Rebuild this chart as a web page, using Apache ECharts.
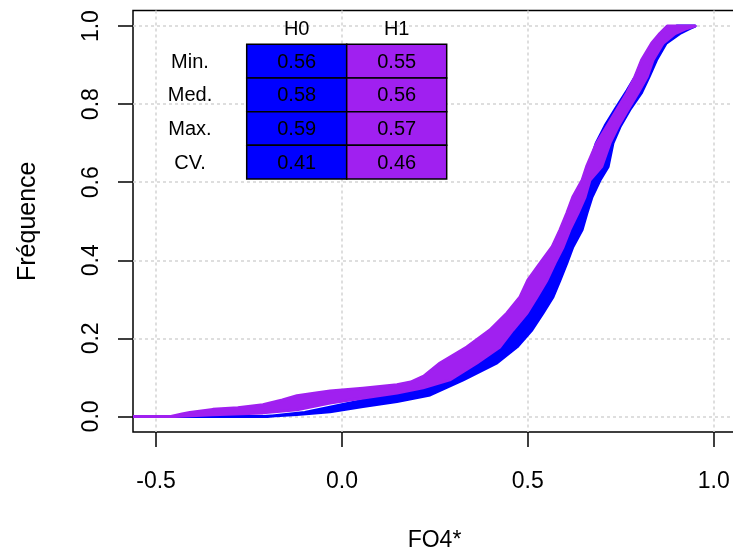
<!DOCTYPE html>
<html>
<head>
<meta charset="utf-8">
<script src="https://cdn.jsdelivr.net/npm/echarts@6/dist/echarts.min.js"></script>
<style>html,body{margin:0;padding:0;background:#fff;}#c{width:733px;height:554px;}</style>
</head>
<body>
<div id="c"></div>
<script>
// ---- data ----
const xTicks = [-0.5, 0.0, 0.5, 1.0];
const yTicks = [0.0, 0.2, 0.4, 0.6, 0.8, 1.0];
const xTitle = 'FO4*';
const yTitle = 'Fréquence';

// H1 (purple) envelope of ECDF curves: left edge (bottom->top), right edge (top->bottom)
const h1LeftX = [-0.562,-0.46,-0.43,-0.409,-0.347,-0.28,-0.2125,-0.16,-0.121,-0.07,-0.032,0.0565,0.148,0.185,0.22,0.264,0.336,0.398,0.444,0.479,0.500,0.533,0.565,0.5865,0.605,0.621,0.646,0.658,0.685,0.712,0.739,0.766,0.788,0.806,0.833,0.855,0.875];
const h1LeftF = [0,0,0.006,0.010,0.018,0.022,0.030,0.042,0.053,0.060,0.065,0.072,0.081,0.088,0.103,0.137,0.178,0.2215,0.265,0.306,0.349,0.393,0.434,0.478,0.521,0.562,0.605,0.640,0.700,0.742,0.785,0.828,0.870,0.913,0.956,0.981,1.0];
const h1RightX = [0.950,0.928,0.896,0.864,0.837,0.821,0.796,0.769,0.7425,0.721,0.699,0.667,0.654,0.635,0.613,0.595,0.573,0.5515,0.5246,0.498,0.460,0.425,0.363,0.29,0.218,0.148,0.0565,-0.032,-0.121,-0.2125,-0.347,-0.45,-0.562];
const h1RightF = [1.0,0.994,0.981,0.956,0.913,0.870,0.828,0.785,0.742,0.700,0.640,0.605,0.562,0.521,0.478,0.434,0.393,0.349,0.306,0.265,0.2215,0.178,0.137,0.0935,0.073,0.060,0.047,0.034,0.017,0.009,0.004,0,0];

// H0 (blue) envelope
const h0LeftX = [-0.562,-0.2,-0.1,0.0,0.1,0.22,0.30,0.38,0.44,0.49,0.54,0.575,0.615,0.645,0.667,0.684,0.708,0.737,0.767,0.792,0.815,0.845,0.87,0.9];
const h0LeftF = [0,0,0.010,0.030,0.050,0.070,0.100,0.170,0.240,0.310,0.380,0.450,0.530,0.600,0.650,0.700,0.745,0.790,0.835,0.875,0.915,0.955,0.980,1.0];
const h0RightX = [0.950,0.936,0.909,0.872,0.846,0.826,0.805,0.774,0.748,0.729,0.716,0.694,0.6726,0.659,0.646,0.621,0.605,0.5865,0.5677,0.541,0.511,0.471,0.417,0.326,0.237,0.148,0.0565,-0.032,-0.121,-0.2125,-0.562];
const h0RightF = [1.0,0.994,0.981,0.956,0.913,0.870,0.828,0.785,0.742,0.700,0.640,0.605,0.562,0.521,0.478,0.434,0.393,0.349,0.306,0.265,0.2215,0.178,0.137,0.0935,0.055,0.038,0.025,0.012,0.005,0,0];

// table
const tableCols = ['H0', 'H1'];
const tableRows = ['Min.', 'Med.', 'Max.', 'CV.'];
const h0Stats = ['0.56', '0.58', '0.59', '0.41'];
const h1Stats = ['0.55', '0.56', '0.57', '0.46'];

// ---- chart ----
const FONT = "'Liberation Sans', Arial, Helvetica, sans-serif";
const BLUE = '#0000ff', PURPLE = '#a020f0';

function zip(xs, ys) { return xs.map((x, i) => [x, ys[i]]); }
function bandSeries(name, color, lx, lf, rx, rf) {
  const pts = zip(lx, lf).concat(zip(rx, rf));
  return {
    type: 'custom', name: name, clip: true,
    data: [[0, 0]],
    encode: { x: 0, y: 1 },
    renderItem: function (params, api) {
      return {
        type: 'polygon',
        shape: { points: pts.map(p => api.coord(p)) },
        style: { fill: color, stroke: color, lineWidth: 3, lineJoin: 'round' }
      };
    },
    silent: true
  };
}

// table graphics
const colEdges = [246.7, 346.7, 446.7];
const rowEdges = [44.3, 78.0, 111.7, 145.3, 179.0];
const TFONT = '20px ' + FONT;
const graphics = [];
const stats = [h0Stats, h1Stats];
const fills = [BLUE, PURPLE];
for (let c = 0; c < 2; c++) {
  graphics.push({ type: 'text', z: 100, x: (colEdges[c] + colEdges[c + 1]) / 2, y: 29.5,
    style: { text: tableCols[c], font: TFONT, fill: '#000', align: 'center', verticalAlign: 'middle' } });
  for (let r = 0; r < 4; r++) {
    graphics.push({ type: 'rect', z: 100,
      shape: { x: colEdges[c], y: rowEdges[r], width: colEdges[c + 1] - colEdges[c], height: rowEdges[r + 1] - rowEdges[r] },
      style: { fill: fills[c], stroke: '#000', lineWidth: 1.5 } });
    graphics.push({ type: 'text', z: 101, x: (colEdges[c] + colEdges[c + 1]) / 2, y: (rowEdges[r] + rowEdges[r + 1]) / 2 + 1,
      style: { text: stats[c][r], font: TFONT, fill: '#000', align: 'center', verticalAlign: 'middle' } });
  }
}
for (let r = 0; r < 4; r++) {
  graphics.push({ type: 'text', z: 100, x: 190, y: (rowEdges[r] + rowEdges[r + 1]) / 2 + 1,
    style: { text: tableRows[r], font: TFONT, fill: '#000', align: 'center', verticalAlign: 'middle' } });
}

const chart = echarts.init(document.getElementById('c'), null, { renderer: 'canvas' });
const splitStyle = { color: '#d3d3d3', type: [3, 3], width: 1.5 };
chart.setOption({
  animation: false,
  backgroundColor: '#fff',
  grid: { left: 133, top: 10.5, width: 603, height: 421.5, outerBoundsMode: 'none', containLabel: false,
    show: true, borderColor: '#000', borderWidth: 1.5, backgroundColor: 'transparent' },
  xAxis: {
    type: 'value', min: -0.562, max: 1.06,
    axisLine: { show: false, onZero: false },
    axisTick: { show: true, customValues: xTicks, length: 15, lineStyle: { color: '#000', width: 1.5 } },
    axisLabel: { customValues: xTicks, formatter: v => v.toFixed(1), margin: 38, fontSize: 23, color: '#000', fontFamily: FONT },
    splitLine: { show: true, lineStyle: splitStyle },
    name: xTitle, nameLocation: 'middle', nameGap: 97,
    nameTextStyle: { fontSize: 23, color: '#000', fontFamily: FONT }
  },
  yAxis: {
    type: 'value', min: -0.04, max: 1.04,
    axisLine: { show: false, onZero: false },
    axisTick: { show: true, customValues: yTicks, length: 15, lineStyle: { color: '#000', width: 1.5 } },
    axisLabel: { customValues: yTicks, formatter: v => v.toFixed(1), rotate: 90, margin: 30, fontSize: 23, color: '#000', fontFamily: FONT },
    splitLine: { show: true, lineStyle: splitStyle },
    name: yTitle, nameLocation: 'middle', nameGap: 92,
    nameTextStyle: { fontSize: 25, color: '#000', fontFamily: FONT }
  },
  series: [
    bandSeries('H0', BLUE, h0LeftX, h0LeftF, h0RightX, h0RightF),
    bandSeries('H1', PURPLE, h1LeftX, h1LeftF, h1RightX, h1RightF)
  ],
  graphic: { elements: graphics }
});
</script>
</body>
</html>
